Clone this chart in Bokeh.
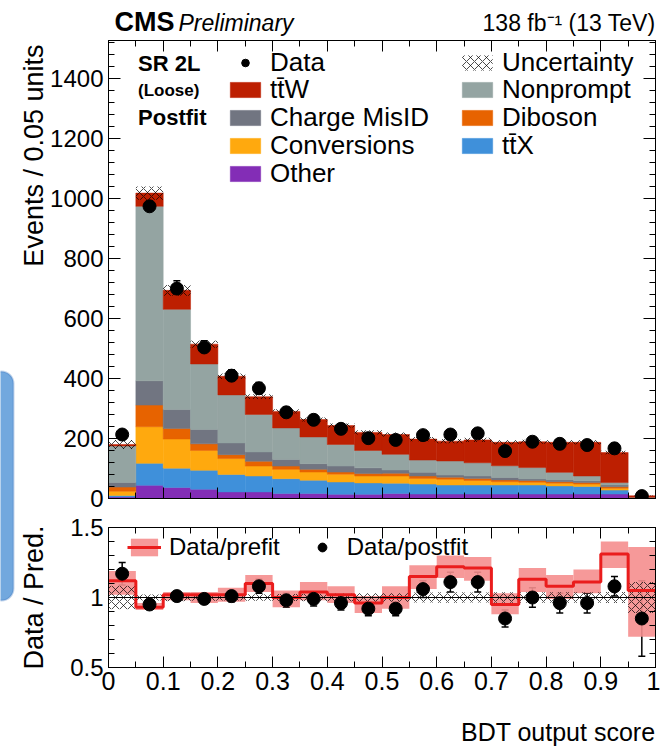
import numpy as np
from bokeh.plotting import figure
from bokeh.models import (Range1d, LinearAxis, Label, Legend, LegendItem, Whisker, TeeHead,
                          ColumnDataSource, NumeralTickFormatter, BoxAnnotation,
                          SingleIntervalTicker, Span, CustomLabelingPolicy)
from bokeh.layouts import column, row
from bokeh.embed import file_html
from bokeh.resources import INLINE

# ---------------- data ----------------
bin_edges = [0.00, 0.05, 0.10, 0.15, 0.20, 0.25, 0.30, 0.35, 0.40, 0.45, 0.50,
             0.55, 0.60, 0.65, 0.70, 0.75, 0.80, 0.85, 0.90, 0.95, 1.00]

other       = [5, 44, 37, 31, 22, 22, 17, 17, 14, 14, 17, 15, 15, 15, 15, 15, 15, 15, 15, 1]
ttx         = [5, 73, 64, 63, 58, 53, 49, 44, 41, 38, 34, 33, 30, 30, 30, 30, 27, 25, 13, 1]
conversions = [14, 122, 97, 66, 53, 33, 31, 27, 26, 23, 24, 19, 19, 15, 11, 9, 9, 8, 6, 0.5]
diboson     = [14, 72, 35, 22, 13, 16, 11, 9, 7, 8, 9, 8, 7, 7, 6, 6, 5, 5, 5, 0.5]
chargemisid = [15, 81, 63, 48, 39, 31, 22, 19, 20, 19, 11, 12, 7, 8, 8, 5, 6, 6, 6, 0.5]
nonprompt   = [122, 581, 334, 218, 160, 125, 105, 89, 72, 58, 52, 41, 47, 44, 39, 38, 25, 16, 8, 1]
ttw         = [5, 44, 63, 66, 62, 59, 55, 58, 63, 60, 66, 70, 66, 76, 78, 86, 100, 112, 100, 4.5]

data_obs    = [213, 973, 699, 503, 409, 367, 287, 262, 232, 201, 195, 211, 213, 217, 158, 189, 182, 178, 167, 8]
data_err    = [15, 31, 26, 22, 20, 19, 17, 16, 15, 14, 14, 15, 15, 15, 13, 14, 14, 13, 13, 3]
total_unc   = [15, 22, 18, 12, 9, 8, 7, 7, 7, 7, 7, 7, 7, 7, 7, 7, 7, 7, 6, 1]

ratio_post     = [1.17, 0.95, 1.01, 0.99, 1.01, 1.08, 0.98, 0.99, 0.96, 0.92,
                  0.92, 1.06, 1.11, 1.11, 0.85, 1.00, 0.96, 0.96, 1.08, 0.85]
ratio_post_err = [0.08, 0.03, 0.03, 0.03, 0.04, 0.05, 0.05, 0.05, 0.05, 0.05,
                  0.05, 0.06, 0.07, 0.07, 0.06, 0.07, 0.07, 0.07, 0.07, 0.27]
ratio_pre      = [1.12, 0.93, 1.02, 1.02, 1.02, 1.10, 1.00, 1.04, 1.02, 0.96,
                  1.00, 1.15, 1.22, 1.21, 0.95, 1.13, 1.08, 1.11, 1.31, 1.05]
ratio_pre_lo   = [1.02, 0.91, 0.98, 0.96, 0.97, 1.04, 0.93, 0.98, 0.96, 0.89,
                  0.92, 1.06, 1.14, 1.12, 0.88, 1.04, 0.99, 1.03, 1.21, 0.72]
ratio_pre_hi   = [1.19, 0.96, 1.04, 1.04, 1.07, 1.16, 1.05, 1.11, 1.08, 1.01,
                  1.08, 1.23, 1.30, 1.29, 1.03, 1.21, 1.16, 1.20, 1.40, 1.36]

# stacking order (bottom -> top), names and colours
stack_names  = ["Other", "tt\u0304X", "Conversions", "Diboson", "Charge MisID", "Nonprompt", "tt\u0304W"]
stack_values = [other, ttx, conversions, diboson, chargemisid, nonprompt, ttw]
stack_colors = ["#832db6", "#3f90da", "#ffa90e", "#e76300", "#717581", "#94a4a2", "#bd1f01"]

# legend layout: two columns, entries top to bottom
legend_col1 = ["Data", "tt\u0304W", "Charge MisID", "Conversions", "Other"]
legend_col2 = ["Uncertainty", "Nonprompt", "Diboson", "tt\u0304X"]

FONT = "Liberation Sans"

edges = np.array(bin_edges)
left, right = edges[:-1], edges[1:]
centers = 0.5 * (left + right)

NO_LABELS = """
const all = Array.from(indices)
for (const i of all) { indices.unset(i) }
return indices
"""


def hide_labels(ax):
    ax.major_label_text_font_size = "1px"
    ax.major_label_standoff = 0
    ax.major_label_policy = CustomLabelingPolicy(code=NO_LABELS)


def style_axes(p, xtick, ytick, show_x_labels, ytick_in=12):
    for ax in p.xaxis:
        ax.ticker = xtick
    for ax in p.yaxis:
        ax.ticker = ytick
    top = LinearAxis(ticker=xtick)
    rgt = LinearAxis(ticker=ytick)
    hide_labels(top)
    hide_labels(rgt)
    p.add_layout(top, "above")
    p.add_layout(rgt, "right")
    for ax in list(p.xaxis) + list(p.yaxis):
        ax.axis_line_color = "black"
        ax.axis_line_width = 1
        ax.major_tick_out = 0
        ax.minor_tick_out = 0
        ax.major_tick_line_color = "black"
        ax.minor_tick_line_color = "black"
        ax.major_label_text_font = FONT
        ax.major_label_text_color = "black"
    for ax in p.xaxis:
        ax.major_tick_in = 11
        ax.minor_tick_in = 6
    for ax in p.yaxis:
        ax.major_tick_in = ytick_in
        ax.minor_tick_in = 6
    if show_x_labels:
        p.below[0].major_label_text_font_size = "25px"
        p.below[0].major_label_standoff = 4
        p.below[0].formatter = NumeralTickFormatter(format="0.[0]")
    else:
        hide_labels(p.below[0])
    p.left[0].major_label_text_font_size = "24px"
    p.left[0].major_label_standoff = 5
    p.outline_line_color = "black"
    p.grid.visible = False


def blank_fig(width, height, xr, yr):
    f = figure(width=width, height=height, x_range=xr, y_range=yr, title=None,
               output_backend="svg", toolbar_location=None,
               x_axis_location=None, y_axis_location=None, min_border=0)
    f.outline_line_color = None
    f.grid.visible = False
    f.background_fill_color = "white"
    f.border_fill_color = "white"
    return f


def text(fig, x, y, t, size, style="normal", **kw):
    fig.add_layout(Label(x=x, y=y, text=t, text_font=FONT, text_font_size=size,
                         text_font_style=style, text_color="black", **kw))


# ---------------- side strip (rotated axis titles + blue box) ----------------
s = blank_fig(47, 746, Range1d(0, 47), Range1d(0, 746))   # y = 746 - pixel row
box_kw = dict(left=-12, right=13, top=746 - 371, bottom=746 - 600,
              fill_color="#72a8de", fill_alpha=1, line_color="#3b73bd", line_width=2)
try:
    s.add_layout(BoxAnnotation(border_radius=12, **box_kw))
except Exception:
    s.add_layout(BoxAnnotation(**box_kw))
text(s, 33, 746 - 44, "Events / 0.05 units", "27px", angle=np.pi / 2,
     text_align="right", text_baseline="middle")
text(s, 33, 746 - 525, "Data / Pred.", "27px", angle=np.pi / 2,
     text_align="right", text_baseline="middle")

# ---------------- header (its frame is aligned with the main frame in the column) ----------------
h = blank_fig(613, 36, Range1d(0, 1), Range1d(0, 36))   # y = 36 - pixel row
text(h, 0.011, 15, "CMS", "27px", "bold", text_baseline="alphabetic")
text(h, 0.128, 13.5, "Preliminary", "23px", "italic", text_baseline="alphabetic")
text(h, 1.0, 13.5, "138 fb\u207b\u00b9 (13 TeV)", "23px", text_baseline="alphabetic", text_align="right")

# ---------------- main panel ----------------
p = figure(width=613, height=477, x_range=Range1d(0, 1), y_range=Range1d(0, 1525), title=None,
           output_backend="svg", toolbar_location=None,
           min_border_left=59, min_border_right=4, min_border_top=2, min_border_bottom=15)
p.background_fill_color = "white"
p.border_fill_color = "white"

bottom = np.zeros(len(left))
renderers = {}
for name, vals, col in zip(stack_names, stack_values, stack_colors):
    top = bottom + np.array(vals, dtype=float)
    r = p.quad(left=left, right=right, bottom=bottom, top=top,
               fill_color=col, line_color=col, line_width=0.5)
    renderers[name] = r
    bottom = top
total = bottom

renderers["Uncertainty"] = p.quad(left=left, right=right, bottom=total - np.array(total_unc),
                                  top=total + np.array(total_unc),
                                  fill_alpha=0, line_alpha=0, hatch_pattern="diagonal_cross",
                                  hatch_color="black", hatch_scale=8, hatch_weight=0.7, hatch_alpha=1)

dsrc = ColumnDataSource(dict(x=centers, y=data_obs,
                             lo=np.array(data_obs) - np.array(data_err),
                             up=np.array(data_obs) + np.array(data_err)))
p.add_layout(Whisker(source=dsrc, base="x", upper="up", lower="lo", dimension="height",
                     line_color="black", line_width=1.5,
                     upper_head=TeeHead(size=7, line_width=1.5, line_color="black"),
                     lower_head=TeeHead(size=7, line_width=1.5, line_color="black")))
renderers["Data"] = p.scatter(x="x", y="y", source=dsrc, size=13, color="black")

style_axes(p, SingleIntervalTicker(interval=0.1, num_minor_ticks=2),
           SingleIntervalTicker(interval=200, num_minor_ticks=5), False)

# one single-entry legend per row so that the row pitch matches the reference
leg_kw = dict(glyph_width=38, glyph_height=19, label_text_font=FONT, label_text_font_size="26px",
              label_text_color="black", label_standoff=6, spacing=0, padding=0, margin=0,
              background_fill_alpha=0, border_line_alpha=0)
row_pitch = 27.8
first_row_center = 62          # pixel row of first entry (canvas)
frame_bottom_px = 498
for col_x, names in ((118, legend_col1), (350, legend_col2)):
    for k, name in enumerate(names):
        c = first_row_center + k * row_pitch
        ybot = frame_bottom_px - (c + 15.5)
        p.add_layout(Legend(items=[LegendItem(label=name, renderers=[renderers[name]])],
                            location=(col_x, ybot), **leg_kw))

text(p, 0.054, 1447, "SR 2L", "22px", "bold", text_baseline="alphabetic")
text(p, 0.054, 1358, "(Loose)", "17px", "bold", text_baseline="alphabetic")
text(p, 0.054, 1268, "Postfit", "22px", "bold", text_baseline="alphabetic")

# ---------------- ratio panel ----------------
q = figure(width=613, height=187, x_range=p.x_range, y_range=Range1d(0.5, 1.5), title=None,
           output_backend="svg", toolbar_location=None,
           min_border_left=59, min_border_right=4, min_border_top=14, min_border_bottom=33)
q.background_fill_color = "white"
q.border_fill_color = "white"

band_r = q.quad(left=left, right=right, bottom=ratio_pre_lo, top=ratio_pre_hi,
                fill_color="#f58e8e", fill_alpha=0.9, line_alpha=0)
rel_unc = np.array(total_unc) / total
q.quad(left=left, right=right, bottom=1 - rel_unc, top=1 + rel_unc,
       fill_alpha=0, line_alpha=0, hatch_pattern="diagonal_cross", hatch_color="black",
       hatch_scale=8, hatch_weight=0.7, hatch_alpha=1)
q.add_layout(Span(location=1, dimension="width", line_color="black", line_width=1))
step_r = q.step(x=edges, y=np.append(ratio_pre, ratio_pre[-1]), mode="after",
                line_color="#ea1c1c", line_width=3)

rsrc = ColumnDataSource(dict(x=centers, y=ratio_post,
                             lo=np.array(ratio_post) - np.array(ratio_post_err),
                             up=np.array(ratio_post) + np.array(ratio_post_err)))
q.add_layout(Whisker(source=rsrc, base="x", upper="up", lower="lo", dimension="height",
                     line_color="black", line_width=1.5,
                     upper_head=TeeHead(size=7, line_width=1.5, line_color="black"),
                     lower_head=TeeHead(size=7, line_width=1.5, line_color="black")))
pts_r = q.scatter(x="x", y="y", source=rsrc, size=13, color="black")

style_axes(q, SingleIntervalTicker(interval=0.1, num_minor_ticks=2),
           SingleIntervalTicker(interval=0.5, num_minor_ticks=5), True)
q.left[0].formatter = NumeralTickFormatter(format="0.[0]")

leg3 = Legend(items=[LegendItem(label="Data/prefit", renderers=[band_r, step_r]),
                     LegendItem(label="Data/postfit", renderers=[pts_r])],
              orientation="horizontal", location=(19, 106),
              glyph_width=34, glyph_height=22, label_text_font=FONT, label_text_font_size="24px",
              label_text_color="black", label_standoff=8, spacing=25, padding=0, margin=0,
              background_fill_alpha=0, border_line_alpha=0)
q.add_layout(leg3)

# ---------------- footer (x-axis title; frame aligned with the ratio frame) ----------------
f = blank_fig(613, 46, Range1d(0, 1), Range1d(0, 46))   # y = 746 - pixel row
text(f, 1.0, 15, "BDT output score", "25px", text_align="right", text_baseline="alphabetic")

layout = row(s, column(h, p, q, f, spacing=0), spacing=0)
open("out.html", "w").write(file_html(layout, INLINE))
